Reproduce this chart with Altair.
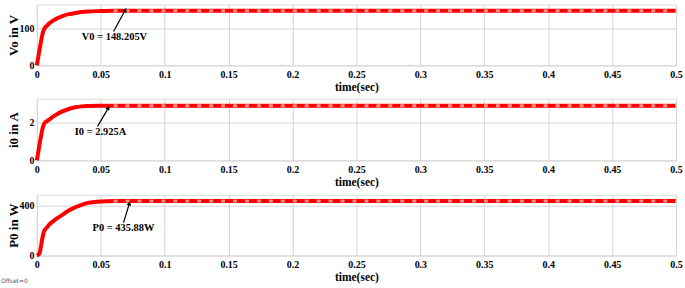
import altair as alt
import pandas as pd

# ---- data ----
t_v = [0, 0.001, 0.003, 0.005, 0.006, 0.008, 0.010, 0.013, 0.016, 0.020, 0.025, 0.030, 0.035, 0.040, 0.050, 0.060, 0.5]
v0 = [0, 20, 60, 92, 100, 108, 115, 122, 128, 134, 139, 142, 145, 146.5, 147.5, 148.2, 148.2]

t_i = [0, 0.001, 0.003, 0.005, 0.006, 0.008, 0.010, 0.013, 0.016, 0.020, 0.025, 0.030, 0.035, 0.040, 0.050, 0.5]
i0 = [0, 0.4, 1.2, 1.85, 2.0, 2.1, 2.2, 2.35, 2.48, 2.62, 2.75, 2.84, 2.89, 2.91, 2.925, 2.925]

t_p = [0, 0.002, 0.003, 0.004, 0.0055, 0.008, 0.010, 0.013, 0.016, 0.020, 0.025, 0.030, 0.035, 0.040, 0.045, 0.050, 0.060, 0.5]
p0 = [0, 15, 60, 120, 190, 225, 250, 275, 298, 325, 360, 385, 405, 420, 428, 432, 435, 435.88]

x_ticks = [0, 0.05, 0.1, 0.15, 0.2, 0.25, 0.3, 0.35, 0.4, 0.45, 0.5]

panels = [
    dict(t=t_v, y=v0, title="Vo in V", dom=[0, 165], ticks=[0, 100], h=61,
         label="V0 = 148.205V", lx=0.0607, ly=76, tail=(0.060, 92), head=(0.0693, 151), ang=29, flat=148.2),
    dict(t=t_i, y=i0, title="i0 in A", dom=[0, 3.3], ticks=[0, 2], h=62,
         label="I0 = 2.925A", lx=0.0498, ly=1.54, tail=(0.0475, 1.82), head=(0.056, 2.81), ang=30, flat=2.925),
    dict(t=t_p, y=p0, title="P0 in W", dom=[0, 485], ticks=[0, 200, 400], h=61,
         label="P0 = 435.88W", lx=0.0678, ly=222, tail=(0.0678, 262), head=(0.0724, 416), ang=17, flat=435.88),
]

SERIF = "Liberation Serif"
W = 642


def panel(p, last=False):
    df = pd.DataFrame({"t": p["t"], "y": p["y"]})
    xs = alt.Scale(domain=[0, 0.5], nice=False, zero=False)
    ys = alt.Scale(domain=p["dom"], nice=False, zero=False)
    xax = alt.Axis(values=x_ticks, format="~g", title="time(sec)", grid=True, ticks=False,
                   labelPadding=4, titlePadding=2, labelFont=SERIF, labelFontWeight="bold",
                   labelFontSize=10, titleFont=SERIF, titleFontWeight="bold", titleFontSize=11.5,
                   labelColor="#000", titleColor="#000", gridColor="#d4d4d4", domain=False,
                   labelFlush=False)
    yax = alt.Axis(values=p["ticks"], title=p["title"], grid=True, ticks=False, labelPadding=3,
                   labelFont=SERIF, labelFontWeight="bold", labelFontSize=10, titleFont=SERIF,
                   titleFontWeight="bold", titleFontSize=13, labelColor="#000", titleColor="#000",
                   gridColor="#d4d4d4", domain=False, titleX=-23.5, titleY=p["h"] / 2, titleAngle=-90,
                   titleBaseline="middle", titleAlign="center")
    line = alt.Chart(df).mark_line(color="#ff0000", strokeWidth=4, interpolate="monotone").encode(
        x=alt.X("t:Q", scale=xs, axis=xax), y=alt.Y("y:Q", scale=ys, axis=yax))
    flat_df = pd.DataFrame({"t": [0.06, 0.5], "y": [p["flat"], p["flat"]]})
    ripple = alt.Chart(flat_df).mark_line(color="#ffb0b0", strokeWidth=3, strokeDash=[4, 8],
                                          opacity=0.8).encode(
        x=alt.X("t:Q", scale=xs), y=alt.Y("y:Q", scale=ys))
    arr_df = pd.DataFrame({"t": [p["tail"][0], p["head"][0]], "y": [p["tail"][1], p["head"][1]]})
    arrow = alt.Chart(arr_df).mark_line(color="#000", strokeWidth=1.2).encode(
        x=alt.X("t:Q", scale=xs), y=alt.Y("y:Q", scale=ys))
    head_df = pd.DataFrame({"t": [p["head"][0]], "y": [p["head"][1]]})
    head = alt.Chart(head_df).mark_point(shape="triangle-up", filled=True, color="#000", size=22,
                                         angle=p["ang"], opacity=1).encode(
        x=alt.X("t:Q", scale=xs), y=alt.Y("y:Q", scale=ys))
    txt_df = pd.DataFrame({"t": [p["lx"]], "y": [p["ly"]], "s": [p["label"]]})
    txt = alt.Chart(txt_df).mark_text(font=SERIF, fontWeight="bold", fontSize=10.5, color="#000").encode(
        x=alt.X("t:Q", scale=xs), y=alt.Y("y:Q", scale=ys), text="s:N")
    layers = [line, ripple, arrow, head, txt]
    if last:
        off = alt.Chart(pd.DataFrame({"s": ["Offset=0"]})).mark_text(
            font="DejaVu Sans", fontSize=6, color="#555", align="left", baseline="middle").encode(
            x=alt.value(-36), y=alt.value(p["h"] + 26), text="s:N")
        layers.append(off)
    return alt.layer(*layers).properties(width=W, height=p["h"])


chart = alt.vconcat(
    panel(panels[0]), panel(panels[1]), panel(panels[2], last=True), spacing=3.5
).properties(
    padding={"left": 0, "top": 1, "right": 0, "bottom": 0}
).configure_view(stroke="#808080", strokeWidth=1).configure(background="white")

chart.save("out.html", embed_options={"renderer": "svg", "actions": False})
